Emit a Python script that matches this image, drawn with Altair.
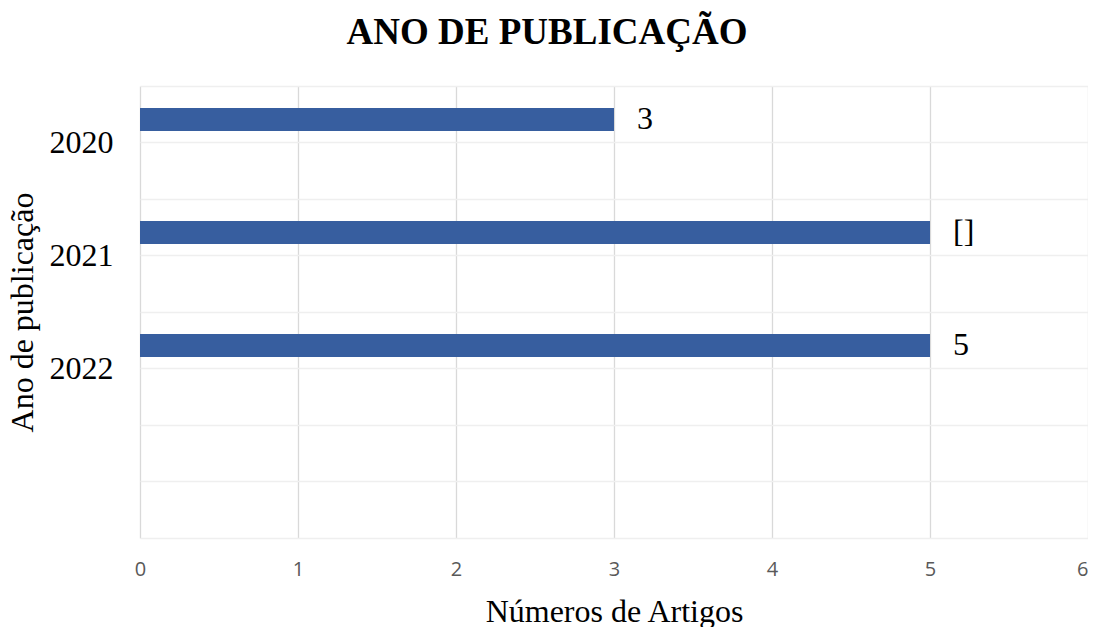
import altair as alt
import pandas as pd

# data
anos = ["2020", "2021", "2022"]
artigos = [3, 5, 5]
rotulos = ["3", "[]", "5"]
dominio_anos = ["2020", "2021", "2022", " "]
series = ["Artigos", "vazio"]
x_ticks = [0, 1, 2, 3, 4, 5, 6]

df = pd.DataFrame({"ano": anos, "n": artigos, "rotulo": rotulos, "serie": series[0]})

SERIF = "Liberation Serif"
SANS = "Open Sans"
BAR = "#375E9F"

y_scale = alt.Scale(domain=dominio_anos, paddingInner=0, paddingOuter=0)
yoff_scale = alt.Scale(domain=series, paddingInner=0.5, paddingOuter=0.478)
x_scale = alt.Scale(domain=[0, 6], nice=False)

x_enc = alt.X(
    "n:Q",
    scale=x_scale,
    axis=alt.Axis(
        values=x_ticks, format="d", labelFlush=False,
        labelAlign=alt.expr("datum.value == 6 ? 'right' : 'center'"),
        title="Números de Artigos", titleFont=SERIF, titleFontSize=32,
        titleFontWeight="normal", titleColor="black", titlePadding=17,
        labelFont=SANS, labelFontSize=20, labelColor="#595959", labelPadding=21,
        ticks=False, domain=False, grid=True, gridColor="#D9D9D9", gridWidth=1.3,
    ),
)

bars = alt.Chart(df).mark_bar(color=BAR).encode(
    x=x_enc,
    y=alt.Y(
        "ano:N", scale=y_scale,
        axis=alt.Axis(
            orient="left",
            title="Ano de publicação", titleFont=SERIF, titleFontSize=32,
            titleFontWeight="normal", titleColor="black", titlePadding=10,
            labelFont=SERIF, labelFontSize=32, labelColor="black", labelPadding=27,
            ticks=False, domain=False, grid=True, gridColor="#EFEFEF", gridWidth=1.3,
        ),
    ),
    yOffset=alt.YOffset("serie:N", scale=yoff_scale),
)

labels = alt.Chart(df).mark_text(
    align="left", baseline="middle", dx=23, font=SERIF, fontSize=32, color="black"
).encode(
    x=alt.X("n:Q", scale=x_scale),
    y=alt.Y(
        "ano:N", scale=y_scale,
        axis=alt.Axis(
            orient="right",
            title=None, labels=False, ticks=False, domain=False, grid=True,
            tickBand="extent", gridColor="#EFEFEF", gridWidth=1.3,
        ),
    ),
    yOffset=alt.YOffset("serie:N", scale=yoff_scale),
    text="rotulo:N",
)

chart = (
    alt.layer(bars, labels)
    .resolve_axis(y="independent")
    .properties(
        width=948,
        height=452,
        autosize=alt.AutoSizeParams(type="none"),
        padding={"left": 132, "top": 78, "right": 0, "bottom": 90},
        title=alt.TitleParams(
            "ANO DE PUBLICAÇÃO", font=SERIF, fontSize=37, fontWeight="bold",
            color="black", anchor="middle", dx=-67, offset=34,
        ),
    )
    .configure_view(stroke=None)
)

chart.save("out.html", embed_options={"renderer": "svg", "actions": False})
